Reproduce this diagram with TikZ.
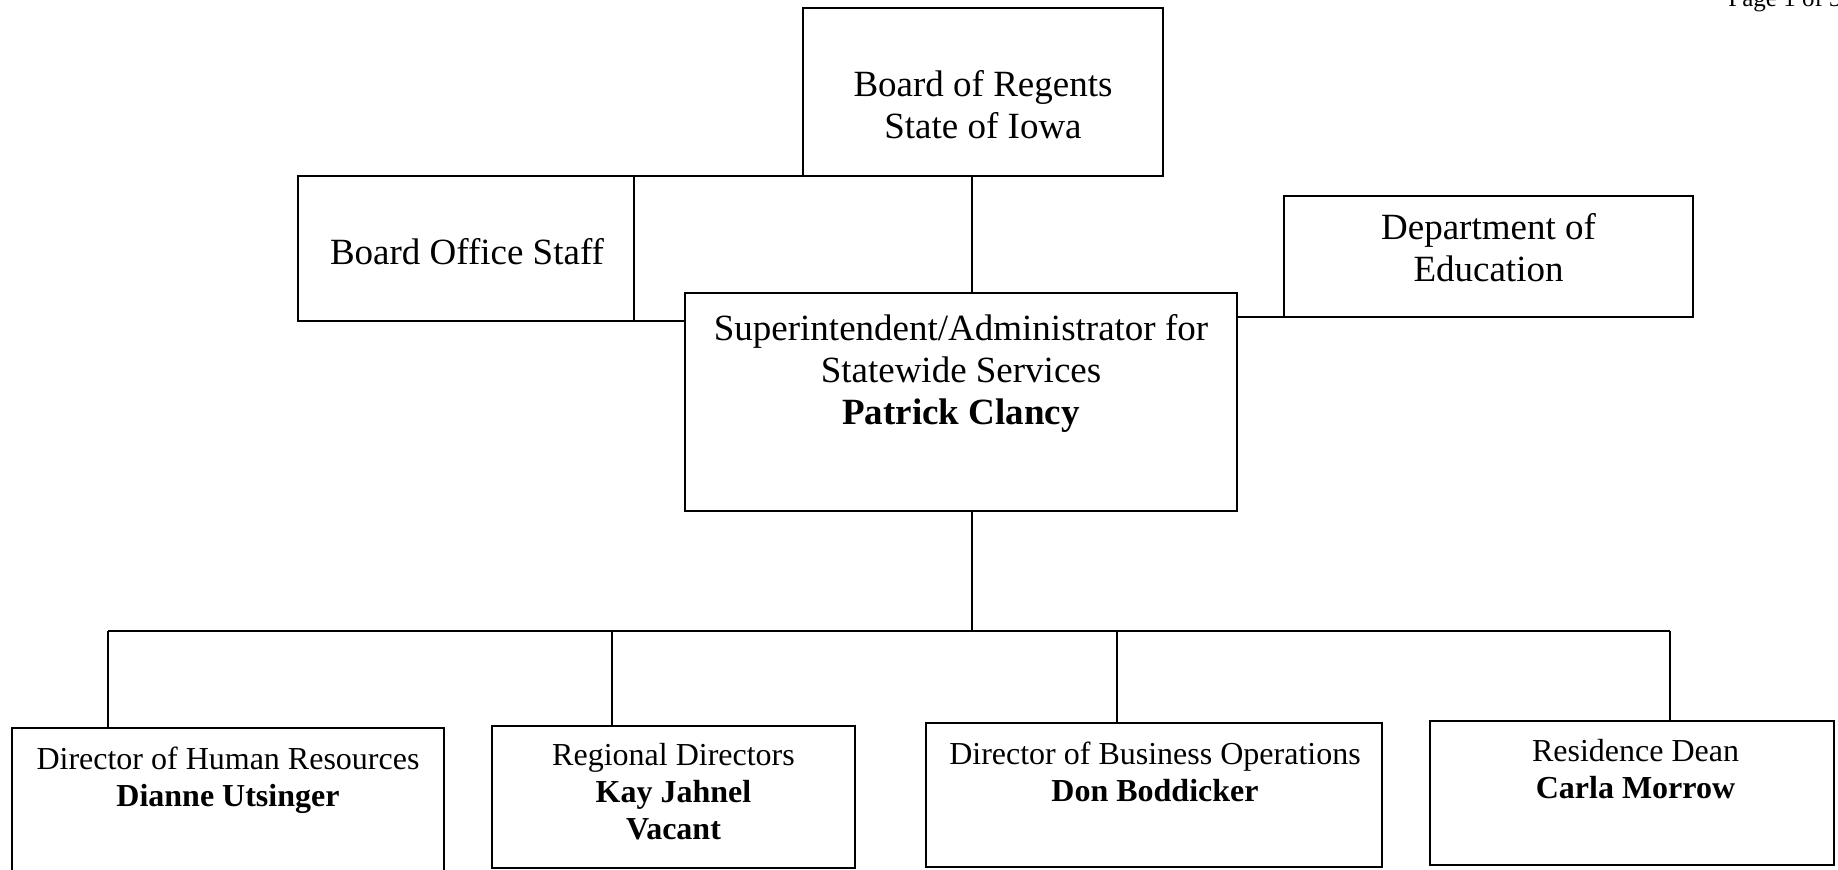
\documentclass[tikz,border=0pt]{standalone}
\usepackage{fontspec}
\setmainfont{Liberation Serif}
\usetikzlibrary{positioning}

\begin{document}
\begin{tikzpicture}[x=0.5pt,y=-0.5pt,
  box/.style={draw, line width=1pt, rectangle, inner sep=0pt, outer sep=0pt},
  link/.style={line width=1pt},
  toptxt/.style={anchor=base, align=center, inner sep=0pt, font=\fontsize{18.5}{21}\selectfont},
  bottxt/.style={anchor=base, align=center, inner sep=0pt, font=\fontsize{16}{18.7}\selectfont}]
  \clip (0,0) rectangle (1838,870);

  % page number
  \node[anchor=base west, inner sep=0pt, font=\fontsize{12.5}{15}\selectfont] (page) at (1728,7) {Page 1 of 3};

  % Board of Regents
  \node[box, minimum width=180pt, minimum height=84pt] (board) at (983,92) {};
  \node[toptxt] (boardtxt) at (983,139) {Board of Regents\\State of Iowa};

  % Board Office Staff
  \node[box, minimum width=168pt, minimum height=72.5pt] (bos) at (466,248.5) {};
  \node[toptxt] (bostxt) at (467,265) {Board Office Staff};

  % Department of Education
  \node[box, minimum width=204.5pt, minimum height=60.5pt] (dept) at (1488.5,256.5) {};
  \node[toptxt] (depttxt) at (1488.5,282) {Department of\\Education};

  % Superintendent
  \node[box, minimum width=276pt, minimum height=109pt] (sup) at (961,402) {};
  \node[toptxt] (suptxt) at (961,425) {Superintendent/Administrator for\\Statewide Services\\\textbf{Patrick Clancy}};

  % Directors row
  \node[box, minimum width=216pt, minimum height=86pt] (hr) at (228,814) {};
  \node[bottxt] (hrtxt) at (228,807) {Director of Human Resources\\\textbf{Dianne Utsinger}};
  \node[box, minimum width=181.5pt, minimum height=71pt] (reg) at (673.5,797) {};
  \node[bottxt] (regtxt) at (673.5,840) {Regional Directors\\\textbf{Kay Jahnel}\\\textbf{Vacant}};
  \node[box, minimum width=228pt, minimum height=72pt] (bus) at (1154,795) {};
  \node[bottxt] (bustxt) at (1155,802) {Director of Business Operations\\\textbf{Don Boddicker}};
  \node[box, minimum width=202pt, minimum height=72pt] (res) at (1632,793) {};
  \node[bottxt] (restxt) at (1635.5,799) {Residence Dean\\\textbf{Carla Morrow}};

  % Connectors
  \coordinate (spine) at (972,0);
  \coordinate (hub) at (972,631);
  \coordinate (d1) at (108,631);
  \coordinate (d2) at (612,631);
  \coordinate (d3) at (1117,631);
  \coordinate (d4) at (1670,631);
  \draw[link] (board.south -| spine) -- (sup.north -| spine);
  \draw[link] (board.south west) -- (bos.north east);
  \draw[link] (bos.south east) -- (bos.south east -| sup.west);
  \draw[link] (dept.south west) -- (dept.south west -| sup.east);
  \draw[link] (sup.south -| spine) -- (hub);
  \draw[link] (d1) -- (d4);
  \draw[link] (d1) -- (d1 |- hr.north);
  \draw[link] (d2) -- (d2 |- reg.north);
  \draw[link] (d3) -- (d3 |- bus.north);
  \draw[link] (d4) -- (d4 |- res.north);
\end{tikzpicture}
\end{document}
